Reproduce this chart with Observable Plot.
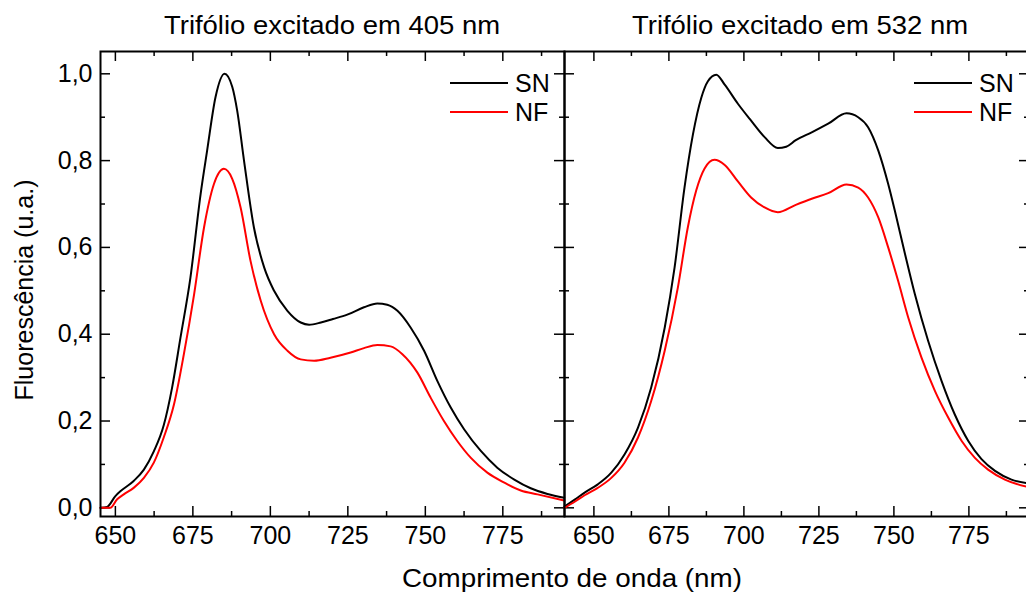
<!DOCTYPE html>
<html>
<head>
<meta charset="utf-8">
<script src="https://cdn.jsdelivr.net/npm/d3@7"></script>
<script src="https://cdn.jsdelivr.net/npm/@observablehq/plot@0.6"></script>
<style>
  html, body { margin: 0; padding: 0; background: #fff; }
  #wrap { position: relative; width: 1026px; height: 595px; overflow: hidden; background: #fff;
          font-family: "Liberation Sans", Arial, sans-serif; }
  #wrap > svg, #wrap > figure { position: absolute; top: 0; margin: 0; }
</style>
</head>
<body>
<div id="wrap"></div>
<script>
// ---------- data ----------
const titles = ["Trifólio excitado em 405 nm", "Trifólio excitado em 532 nm"];
const xLabel = "Comprimento de onda (nm)";
const yLabel = "Fluorescência (u.a.)";
const seriesNames = ["SN", "NF"];
const seriesColors = ["#000000", "#ff0000"];

const xMajor = [650, 675, 700, 725, 750, 775];
const xMinor = [662.5, 687.5, 712.5, 737.5, 762.5, 787.5];
const yMajor = [0, 0.2, 0.4, 0.6, 0.8, 1.0];
const yMinor = [0.1, 0.3, 0.5, 0.7, 0.9];

// Panel 1: 405 nm
const leftNmSN = [645.2, 647.3, 650, 651.6, 655.9, 659.2, 662.4, 665.6, 668.3, 671, 674.2, 677.5, 679.6, 682.3, 685.2, 687.7, 689.3, 691.5, 694.7, 698, 701.2, 705.5, 709.8, 712.5, 716.3, 720.2, 724.8, 730.2, 734.5, 737.7, 741, 745.3, 749.6, 753.9, 758.2, 762.5, 767.9, 773.3, 778.7, 784, 789.4, 794.8];
const leftSN   = [0, 0.002, 0.027, 0.038, 0.062, 0.088, 0.13, 0.19, 0.277, 0.392, 0.53, 0.723, 0.823, 0.946, 1.0, 0.97, 0.915, 0.8, 0.646, 0.554, 0.5, 0.454, 0.427, 0.422, 0.427, 0.435, 0.445, 0.462, 0.471, 0.468, 0.454, 0.415, 0.362, 0.292, 0.231, 0.181, 0.131, 0.092, 0.065, 0.045, 0.032, 0.023];
const leftNmNF = [645.2, 648.4, 650.5, 652.7, 655.9, 659.2, 662.4, 665.6, 668.9, 672.1, 675.4, 678.6, 681.8, 685, 687.7, 690.4, 693.6, 696.9, 701.2, 705.5, 709.8, 714.1, 719.4, 725.9, 730.2, 734.5, 738.8, 742.6, 747.4, 751.7, 756, 760.3, 764.7, 770, 775.5, 780.8, 786.2, 794.8];
const leftNF   = [0, 0, 0.019, 0.031, 0.046, 0.069, 0.104, 0.162, 0.238, 0.354, 0.492, 0.646, 0.746, 0.781, 0.758, 0.692, 0.569, 0.477, 0.4, 0.362, 0.342, 0.339, 0.346, 0.358, 0.368, 0.375, 0.372, 0.354, 0.312, 0.254, 0.2, 0.154, 0.115, 0.081, 0.058, 0.04, 0.031, 0.017];

// Panel 2: 532 nm
const rightNmSN = [640.2, 643.6, 646.9, 651.3, 655.8, 660.2, 664.7, 669.1, 673.6, 676.9, 680.2, 683, 685.8, 688, 690.8, 693.6, 698, 702.4, 706.9, 711.3, 714.1, 717.3, 722.6, 728.1, 734.2, 738.1, 741.4, 744.8, 748.1, 750.3, 753.7, 757, 761.4, 765.9, 770.3, 774.8, 779.2, 783.7, 789.2, 795.2];
const rightSN   = [0.003, 0.019, 0.035, 0.054, 0.081, 0.123, 0.185, 0.277, 0.415, 0.554, 0.738, 0.86, 0.945, 0.983, 0.998, 0.975, 0.931, 0.892, 0.854, 0.829, 0.832, 0.847, 0.865, 0.885, 0.909, 0.9, 0.877, 0.823, 0.746, 0.685, 0.585, 0.492, 0.385, 0.292, 0.215, 0.154, 0.112, 0.085, 0.065, 0.056];
const rightNmNF = [640.2, 643.6, 646.9, 651.3, 655.8, 660.2, 664.7, 669.1, 673.6, 678, 681.3, 684.1, 686.9, 690.2, 693.6, 698, 702.4, 706.9, 711.3, 717.3, 722.6, 728.1, 734.2, 738.1, 741.4, 744.8, 748.1, 751.4, 754.8, 759.2, 763.7, 768.1, 772.6, 777, 781.4, 787, 795.2];
const rightNF   = [0, 0.014, 0.029, 0.046, 0.069, 0.104, 0.162, 0.246, 0.362, 0.508, 0.646, 0.731, 0.782, 0.802, 0.79, 0.752, 0.715, 0.692, 0.681, 0.698, 0.712, 0.725, 0.745, 0.738, 0.715, 0.669, 0.6, 0.523, 0.438, 0.346, 0.269, 0.208, 0.154, 0.115, 0.088, 0.065, 0.047];

// ---------- build ----------
const toRows = (xs, vs, s) => xs.map((x, i) => ({nm: x, v: vs[i], s}));
const fmtY = d => d.toFixed(1).replace(".", ",");

const H = 595, MT = 51, MB = 79;
const FH = H - MT - MB;
const FONT = "'Liberation Sans', Arial, sans-serif";

function panel({width, marginLeft, marginRight, xDomain, rows, showY}) {
  const FW = width - marginLeft - marginRight;
  const tk = {stroke: "#000", strokeWidth: 1.5};
  const marks = [
    Plot.tickX(xMajor, {x: d => d, insetTop: FH - 10, ...tk}),
    Plot.tickX(xMajor, {x: d => d, insetBottom: FH - 10, ...tk}),
    Plot.tickX(xMinor, {x: d => d, insetTop: FH - 5, ...tk}),
    Plot.tickX(xMinor, {x: d => d, insetBottom: FH - 5, ...tk}),
    Plot.tickY(yMajor, {y: d => d, insetRight: FW - 10, ...tk}),
    Plot.tickY(yMajor, {y: d => d, insetLeft: FW - 10, ...tk}),
    Plot.tickY(yMinor, {y: d => d, insetRight: FW - 5, ...tk}),
    Plot.tickY(yMinor, {y: d => d, insetLeft: FW - 5, ...tk}),
    Plot.line(rows, {x: "nm", y: "v", z: "s", stroke: "s", strokeWidth: 2, curve: "monotone-x"}),
    Plot.frame({stroke: "#000", strokeWidth: 2}),
    Plot.axisX({ticks: xMajor, tickSize: 0, tickPadding: 10, fontSize: 25, tickFormat: d => String(d), label: null})
  ];
  if (showY) marks.push(Plot.axisY({ticks: yMajor, tickSize: 0, tickPadding: 8, fontSize: 25, tickFormat: fmtY, label: null}));
  return Plot.plot({
    width, height: H,
    marginLeft, marginRight, marginTop: MT, marginBottom: MB,
    style: {fontFamily: FONT, background: "transparent", overflow: "visible", color: "#000"},
    x: {domain: xDomain, label: null, axis: null},
    y: {domain: [-0.02, 1.0514], label: null, axis: null},
    color: {domain: seriesNames, range: seriesColors},
    marks
  });
}

const wrap = document.getElementById("wrap");

const left = panel({
  width: 565, marginLeft: 100, marginRight: 1, xDomain: [645.2, 794.9],
  rows: [...toRows(leftNmSN, leftSN, "SN"), ...toRows(leftNmNF, leftNF, "NF")],
  showY: true
});
left.style.left = "0px";
wrap.appendChild(left);

const right = panel({
  width: 468, marginLeft: 2, marginRight: 1, xDomain: [640.2, 795.2],
  rows: [...toRows(rightNmSN, rightSN, "SN"), ...toRows(rightNmNF, rightNF, "NF")],
  showY: false
});
right.style.left = "562px";
wrap.appendChild(right);

// overlay: titles, axis titles, legends
const ns = "http://www.w3.org/2000/svg";
const ov = document.createElementNS(ns, "svg");
ov.setAttribute("width", 1026); ov.setAttribute("height", 595);
ov.style.position = "absolute"; ov.style.left = "0px"; ov.style.top = "0px";
ov.style.fontFamily = FONT;
wrap.appendChild(ov);

function txt(s, attrs) {
  const t = document.createElementNS(ns, "text");
  for (const k in attrs) t.setAttribute(k, attrs[k]);
  t.textContent = s;
  ov.appendChild(t);
  return t;
}
function seg(x1, x2, y, color) {
  const l = document.createElementNS(ns, "line");
  l.setAttribute("x1", x1); l.setAttribute("x2", x2);
  l.setAttribute("y1", y); l.setAttribute("y2", y);
  l.setAttribute("stroke", color); l.setAttribute("stroke-width", 2);
  ov.appendChild(l);
}

txt(titles[0], {x: 332, y: 34, "text-anchor": "middle", "font-size": 26, fill: "#000", textLength: 336, lengthAdjust: "spacingAndGlyphs"});
txt(titles[1], {x: 800, y: 34, "text-anchor": "middle", "font-size": 26, fill: "#000", textLength: 336, lengthAdjust: "spacingAndGlyphs"});
txt(xLabel, {x: 572, y: 587, "text-anchor": "middle", "font-size": 26, fill: "#000", textLength: 340, lengthAdjust: "spacingAndGlyphs"});
txt(yLabel, {transform: "translate(33,290) rotate(-90)", "text-anchor": "middle", "font-size": 25, fill: "#000"});

const legendX = [450, 914];
legendX.forEach(lx => {
  seriesNames.forEach((name, i) => {
    const y = 83 + i * 29;
    seg(lx, lx + 58, y, seriesColors[i]);
    txt(name, {x: lx + 65, y: y + 9, "font-size": 25, fill: "#000"});
  });
});
</script>
</body>
</html>
